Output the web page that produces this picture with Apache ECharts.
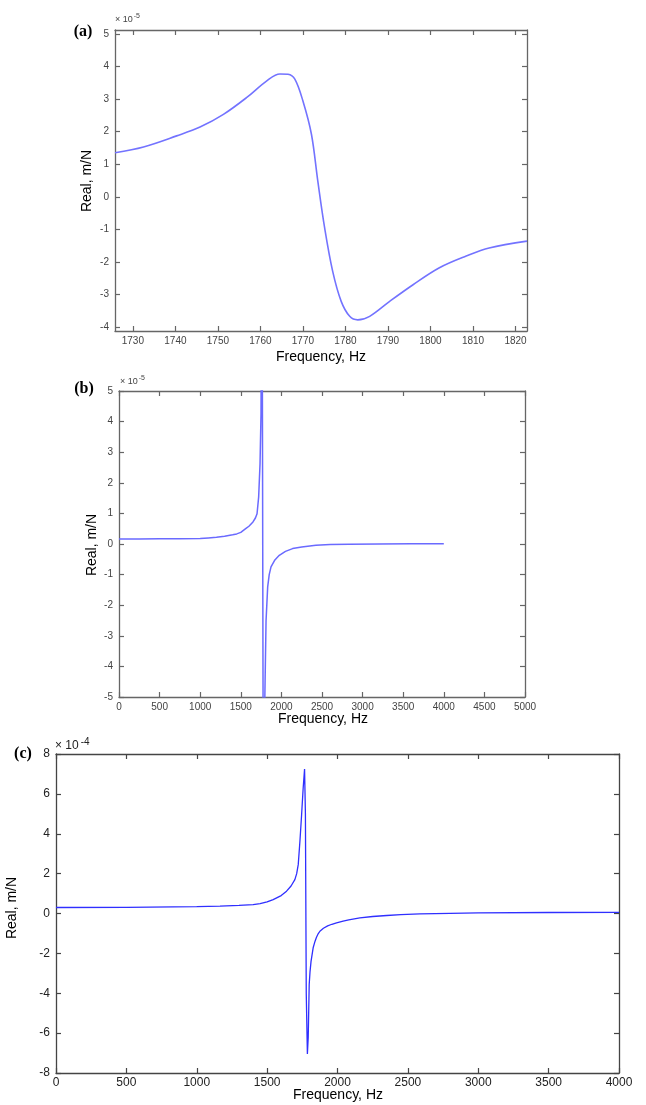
<!DOCTYPE html>
<html><head><meta charset="utf-8">
<script src="https://cdn.jsdelivr.net/npm/echarts@6/dist/echarts.min.js"></script>
<style>html,body{margin:0;padding:0;background:#fff}#c{width:646px;height:1105px}</style>
</head><body><div id="c"></div>
<script>
// ---- Panel (a): zoom around resonance (x 10^-5 m/N)
const freqA = [1725.8, 1732.5, 1740.3, 1745.8, 1751.3, 1756.8, 1761.5, 1764.6, 1766.5, 1768.1, 1770, 1772, 1773.5, 1775.1, 1777, 1779, 1781, 1782.9, 1785.7, 1790.4, 1795.9, 1802.1, 1808.4, 1813.8, 1822.7];
const realA = [1.35, 1.53, 1.87, 2.14, 2.53, 3.05, 3.56, 3.77, 3.76, 3.61, 2.94, 1.92, 0.48, -0.95, -2.29, -3.21, -3.67, -3.78, -3.67, -3.21, -2.70, -2.18, -1.82, -1.57, -1.36];
const xTicksA = [1730, 1740, 1750, 1760, 1770, 1780, 1790, 1800, 1810, 1820];
const yTicksA = [-4, -3, -2, -1, 0, 1, 2, 3, 4, 5];

// ---- Panel (b): full band (x 10^-5 m/N)
const freqB = [0, 250, 500, 750, 1000, 1100, 1200, 1300, 1400, 1450, 1500, 1560, 1600, 1650, 1680, 1700, 1720, 1737, 1749, 1760, 1780, 1790, 1811, 1831, 1850, 1872, 1920, 1974, 2050, 2138, 2250, 2425, 2600, 2834, 3200, 3600, 4000];
const realB = [0.16, 0.16, 0.17, 0.17, 0.18, 0.20, 0.22, 0.25, 0.30, 0.33, 0.38, 0.50, 0.58, 0.72, 0.85, 0.99, 1.54, 2.63, 4.26, 12, -12, -6, -2.5, -1.4, -1.0, -0.75, -0.52, -0.37, -0.24, -0.15, -0.10, -0.04, -0.02, -0.01, 0, 0.01, 0.01];
const xTicksB = [0, 500, 1000, 1500, 2000, 2500, 3000, 3500, 4000, 4500, 5000];
const yTicksB = [-5, -4, -3, -2, -1, 0, 1, 2, 3, 4, 5];

// ---- Panel (c): full band (x 10^-4 m/N)
const freqC = [0, 500, 1000, 1165, 1300, 1401, 1450, 1500, 1543, 1600, 1638, 1670, 1697, 1710, 1721, 1733, 1745, 1756, 1766, 1772, 1778, 1786, 1792, 1799, 1805, 1812, 1827, 1840, 1850, 1860, 1875, 1900, 1930, 1960, 1993, 2040, 2080, 2159, 2250, 2350, 2450, 2585, 2800, 3000, 3500, 4000];
const realC = [0.30, 0.31, 0.34, 0.37, 0.41, 0.45, 0.50, 0.58, 0.70, 0.90, 1.12, 1.38, 1.70, 2.00, 2.45, 3.62, 4.95, 6.28, 7.25, 5.0, -4.0, -7.05, -6.2, -3.55, -2.9, -2.4, -1.72, -1.40, -1.20, -1.05, -0.89, -0.74, -0.62, -0.54, -0.47, -0.38, -0.32, -0.22, -0.15, -0.10, -0.06, -0.02, 0.01, 0.03, 0.05, 0.06];
const xTicksC = [0, 500, 1000, 1500, 2000, 2500, 3000, 3500, 4000];
const yTicksC = [-8, -6, -4, -2, 0, 2, 4, 6, 8];

const chart = echarts.init(document.getElementById('c'), null, {renderer: 'canvas'});

const grids = [
  {left: 115, top: 30, width: 412, height: 301},
  {left: 119, top: 391, width: 406, height: 306},
  {left: 56, top: 754, width: 563, height: 319}
];

function axesFor(gi, xr, xt, yr, yt, lab, axColor) {
  const line = {show: true, onZero: false, lineStyle: {color: axColor, width: 1.3}};
  const tick = (vals) => ({show: true, inside: true, length: 5, customValues: vals, lineStyle: {color: axColor, width: 1.2}});
  const fmt = (v) => String(v);
  const x = [
    {type: 'value', gridIndex: gi, position: 'bottom', min: xr[0], max: xr[1], splitLine: {show: false},
     axisLine: line, axisTick: tick(xt),
     axisLabel: {customValues: xt, formatter: fmt, color: lab.color, fontSize: lab.size, fontFamily: 'Arial', fontWeight: lab.weight, margin: lab.xm, showMinLabel: true, showMaxLabel: true}},
    {type: 'value', gridIndex: gi, position: 'top', min: xr[0], max: xr[1], splitLine: {show: false},
     axisLine: line, axisTick: tick(xt), axisLabel: {show: false}}
  ];
  const y = [
    {type: 'value', gridIndex: gi, position: 'left', min: yr[0], max: yr[1], splitLine: {show: false},
     axisLine: line, axisTick: tick(yt),
     axisLabel: {customValues: yt, formatter: fmt, color: lab.color, fontSize: lab.size, fontFamily: 'Arial', fontWeight: lab.weight, margin: lab.ym, showMinLabel: true, showMaxLabel: true}},
    {type: 'value', gridIndex: gi, position: 'right', min: yr[0], max: yr[1], splitLine: {show: false},
     axisLine: line, axisTick: tick(yt), axisLabel: {show: false}}
  ];
  return {x, y};
}

const labAB = {color: '#444', size: 10, weight: 'normal', xm: 5, ym: 6};
const labC = {color: '#222', size: 12, weight: 'normal', xm: 4, ym: 6};
const A = axesFor(0, [1725.8, 1822.7], xTicksA, [-4.12, 5.12], yTicksA, labAB, '#666');
const B = axesFor(1, [0, 5000], xTicksB, [-5, 5], yTicksB, labAB, '#666');
const C = axesFor(2, [0, 4000], xTicksC, [-8, 8], yTicksC, labC, '#444');

const zip = (xs, ys) => xs.map((v, i) => [v, ys[i]]);

function txt(x, y, text, style, rot) {
  return {type: 'text', x: x, y: y, rotation: rot || 0,
    style: Object.assign({text: text, fill: '#000', fontFamily: 'Arial', fontSize: 14, align: 'center', verticalAlign: 'middle'}, style)};
}

chart.setOption({
  animation: false,
  backgroundColor: '#fff',
  grid: grids,
  xAxis: [...A.x, ...B.x, ...C.x],
  yAxis: [...A.y, ...B.y, ...C.y],
  series: [
    {type: 'line', xAxisIndex: 0, yAxisIndex: 0, data: zip(freqA, realA), showSymbol: false, smooth: 0.35,
     lineStyle: {color: '#7373ff', width: 1.6}},
    {type: 'line', xAxisIndex: 2, yAxisIndex: 2, data: zip(freqB, realB), showSymbol: false,
     lineStyle: {color: '#6a6aff', width: 1.5}},
    {type: 'line', xAxisIndex: 4, yAxisIndex: 4, data: zip(freqC, realC), showSymbol: false,
     lineStyle: {color: '#2f2fff', width: 1.3}}
  ],
  graphic: [
    txt(83, 32, '(a)', {fontFamily: 'Times New Roman, Liberation Serif, serif', fontWeight: 'bold', fontSize: 16}),
    txt(84, 389, '(b)', {fontFamily: 'Times New Roman, Liberation Serif, serif', fontWeight: 'bold', fontSize: 16}),
    txt(23, 754, '(c)', {fontFamily: 'Times New Roman, Liberation Serif, serif', fontWeight: 'bold', fontSize: 16}),
    {type: 'text', x: 115, y: 13, style: {text: '× 10{sup|-5}', fontSize: 9, fill: '#444', fontFamily: 'Arial', rich: {sup: {fontSize: 7, fill: '#444', fontFamily: 'Arial', padding: [0, 0, 6, 1]}}}},
    {type: 'text', x: 120, y: 375, style: {text: '× 10{sup|-5}', fontSize: 9, fill: '#444', fontFamily: 'Arial', rich: {sup: {fontSize: 7, fill: '#444', fontFamily: 'Arial', padding: [0, 0, 6, 1]}}}},
    {type: 'text', x: 55, y: 737, style: {text: '× 10{sup|-4}', fontSize: 12, fill: '#222', fontFamily: 'Arial', rich: {sup: {fontSize: 10, fill: '#222', fontFamily: 'Arial', padding: [0, 0, 8, 2]}}}},
    txt(321, 357, 'Frequency, Hz'),
    txt(87, 181, 'Real, m/N', {}, -Math.PI / 2 * -1),
    txt(323, 719, 'Frequency, Hz'),
    txt(92, 545, 'Real, m/N', {}, Math.PI / 2),
    txt(338, 1095, 'Frequency, Hz'),
    txt(12, 908, 'Real, m/N', {}, Math.PI / 2)
  ]
});
</script>
</body></html>
